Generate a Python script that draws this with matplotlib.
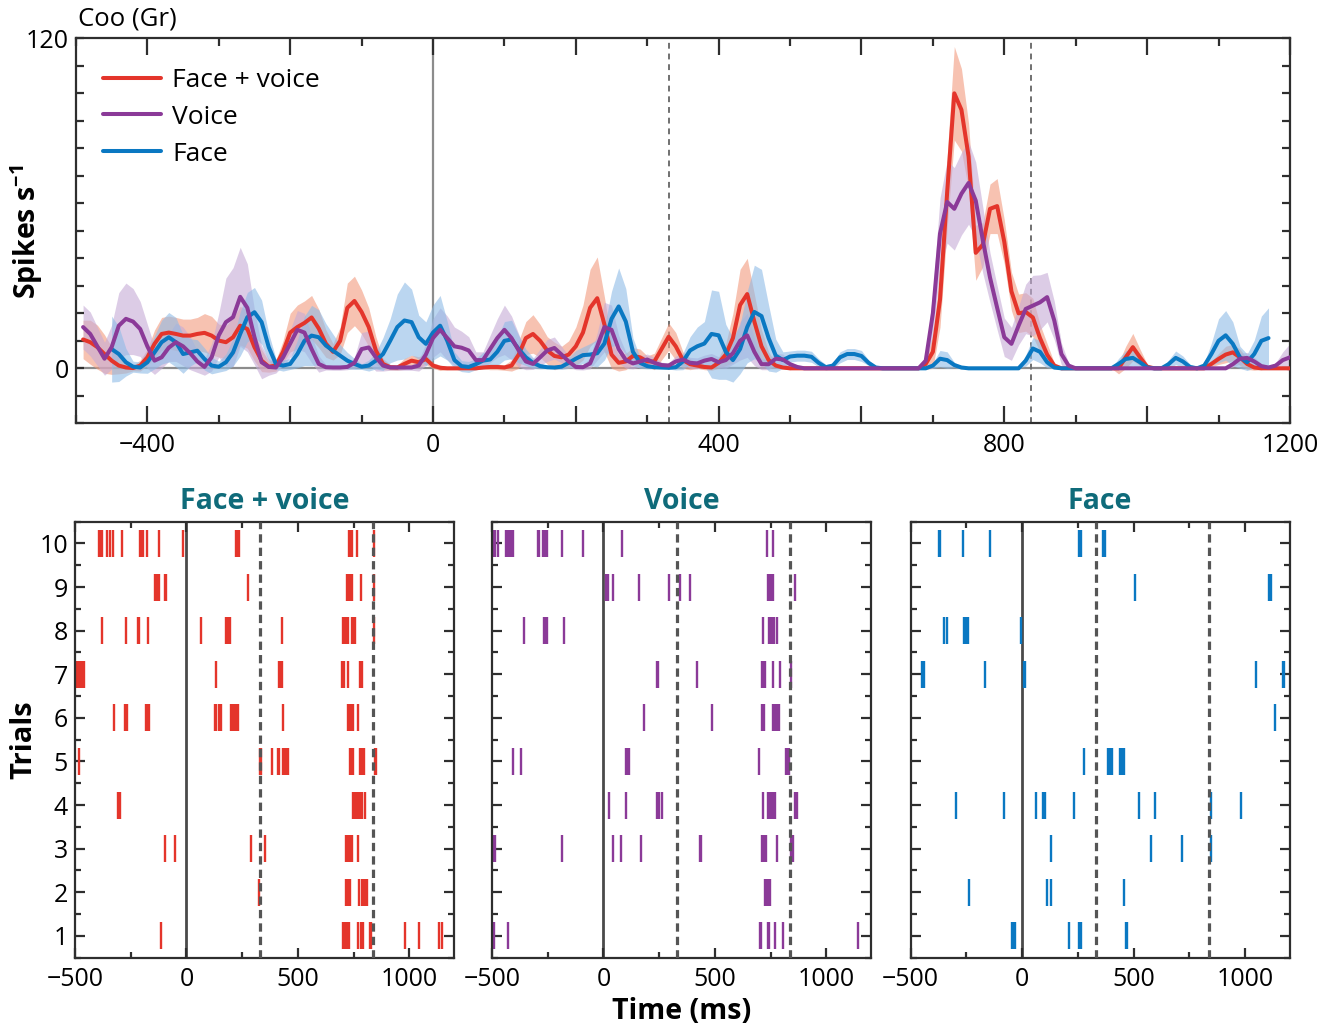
import numpy as np
import matplotlib.pyplot as plt
from matplotlib.ticker import MultipleLocator, FuncFormatter

plt.rcParams['font.family'] = ['Open Sans', 'DejaVu Sans']
plt.rcParams['mathtext.fontset'] = 'custom'
plt.rcParams['mathtext.rm'] = 'Open Sans'
plt.rcParams['mathtext.bf'] = 'Open Sans:bold'

nan = np.nan

# time axis of the rate curves (ms), one value every 10 ms
time_ms = np.arange(-500, 1201, 10)

# mean firing rate (spikes/s)
fv_rate = [
    nan, 10.5, 9.5, 7.7, 5.2, 2.8, 1.0, 0.3, 0.1, 1.0,
    4.0, 8.9, 12.5, 13.0, 12.5, 11.9, 11.9, 12.5, 12.9, 11.9,
    10.1, 9.5, 11.3, 15.5, 14.3, 7.7, 2.8, 0.6, 1.0, 6.0,
    13.0, 15.0, 16.5, 18.5, 14.5, 9.0, 6.0, 10.0, 22.0, 24.5,
    20.5, 15.0, 6.5, 1.6, 0.4, 0.3, 1.6, 2.8, 2.2, 3.4,
    1.0, 0.2, 0, 0, 0, 0, 0, 0.3, 0.5, 0.5,
    0.3, 1.0, 5.0, 11.0, 12.5, 10.0, 6.5, 4.5, 4.0, 5.0,
    8.0, 13.0, 22.0, 25.5, 16.0, 5.0, 2.0, 2.5, 4.5, 4.0,
    2.5, 2.5, 7.0, 11.5, 8.0, 3.0, 1.5, 1.0, 0.5, 0.3,
    2.0, 5.0, 11.0, 23.0, 27.0, 17.0, 8.0, 3.0, 1.0, 0.3,
    0, 0, 0, 0, 0, 0, 0, 0, 0, 0,
    0, 0, 0, 0, 0, 0, 0, 0, 0, 1.6,
    6.0, 25.0, 64.0, 100.0, 94.0, 77.0, 42.0, 45.0, 58.0, 59.0,
    46.0, 28.0, 20.0, 20.5, 18.5, 11.0, 5.0, 1.0, 0, 0,
    0, 0, 0, 0, 0, 0, 0, 4.0, 7.7, 4.0,
    0.6, 0, 0, 0, 0, 0, 0, 0, 0, 1.6,
    3.4, 5.0, 5.8, 4.0, 1.6, 0.3, 0, 0, 0, 0,
    0,
]
v_rate = [
    nan, 15.0, 12.5, 8.0, 3.5, 7.7, 15.5, 18.0, 17.0, 14.3,
    8.0, 2.8, 4.0, 7.5, 9.5, 8.0, 5.5, 2.5, 0.5, 4.0,
    12.0, 16.8, 18.6, 26.0, 22.0, 11.3, 2.2, 0.5, 0.3, 4.0,
    9.0, 14.0, 13.0, 7.0, 1.6, 0.4, 0.3, 0.3, 0.5, 2.0,
    7.0, 7.6, 4.0, 1.0, 0.3, 0.3, 0.3, 0.3, 1.0, 5.0,
    11.0, 14.0, 11.0, 8.0, 7.5, 6.5, 3.0, 3.0, 7.0, 11.0,
    14.0, 11.0, 6.5, 2.5, 1.6, 4.0, 6.5, 7.4, 5.0, 2.5,
    0.5, 0.4, 1.8, 8.0, 15.0, 14.0, 7.0, 3.0, 1.8, 2.5,
    3.2, 2.0, 1.2, 1.0, 2.5, 3.2, 2.0, 1.8, 2.8, 3.4,
    2.2, 3.0, 5.5, 10.0, 12.0, 6.0, 1.5, 1.5, 3.5, 3.2,
    1.5, 0.5, 0, 0, 0, 0, 0, 0, 0, 0,
    0, 0, 0, 0, 0, 0, 0, 0, 0, 2.8,
    20.0, 49.0, 60.5, 58.0, 63.5, 67.4, 61.0, 46.5, 33.0, 22.0,
    11.3, 8.9, 15.5, 21.6, 22.8, 24.0, 25.9, 17.4, 5.2, 1.0,
    0, 0, 0, 0, 0, 0, 0, 0, 0, 0,
    0, 0, 0, 0, 0, 0, 0, 0, 0, 0,
    0, 0, 1.5, 3.5, 3.8, 2.5, 0.8, 0.3, 1.0, 3.0,
    4.0,
]
f_rate = [
    nan, nan, nan, nan, nan, 7.0, 5.2, 2.2, 0.6, 0.3,
    2.2, 5.8, 9.5, 11.3, 9.5, 5.2, 5.8, 6.4, 3.4, 1.0,
    0.6, 2.2, 5.8, 12.5, 18.6, 20.4, 16.8, 7.7, 1.6, 1.0,
    1.6, 5.2, 10.0, 11.9, 11.3, 8.3, 6.4, 4.6, 2.8, 1.6,
    0.6, 1.0, 2.8, 5.2, 10.0, 15.0, 17.4, 16.8, 11.3, 8.9,
    13.0, 15.5, 10.0, 3.0, 0.8, 0.5, 1.5, 2.8, 3.2, 6.0,
    10.0, 10.5, 7.0, 4.0, 2.0, 0.8, 0.4, 0.3, 0.6, 2.0,
    3.5, 4.8, 5.0, 5.5, 9.0, 18.0, 22.5, 17.0, 6.0, 2.0,
    0.8, 0.4, 0.3, 0.2, 0.4, 2.5, 6.5, 8.0, 9.0, 12.5,
    12.0, 6.0, 3.0, 7.0, 15.0, 20.5, 19.0, 11.0, 4.6, 3.0,
    4.3, 4.6, 4.6, 4.2, 2.0, 0.4, 1.0, 4.0, 5.2, 5.2,
    4.5, 2.0, 0.3, 0, 0, 0, 0, 0, 0, 0,
    1.0, 3.5, 3.0, 1.2, 0.3, 0, 0, 0, 0, 0,
    0, 0, 0, 2.8, 7.2, 6.0, 2.2, 0.3, 0, 0,
    0, 0, 0, 0, 0, 0, 1.6, 3.4, 3.8, 2.2,
    0.3, 0, 0, 1.5, 3.8, 2.5, 0.5, 0, 1.0, 5.2,
    10.0, 12.0, 8.9, 4.0, 2.2, 5.2, 10.0, 11.0, nan, nan,
    nan,
]

# half width of the shaded error band (spikes/s)
fv_err = [
    7, 7, 8, 8, 7, 5, 3, 2, 1, 2,
    3, 5, 6, 6, 6, 6, 6, 6, 7, 7,
    6, 6, 7, 7, 7, 5, 4, 2, 2, 4,
    7, 8, 8, 8, 7, 5, 3, 5, 9, 9,
    8, 7, 5, 2, 1, 1, 2, 2, 2, 2,
    1, 1, 0.5, 0.5, 0.5, 0.5, 0.5, 0.5, 1, 1,
    1, 2, 5, 6, 7, 6, 5, 5, 4, 5,
    7, 10, 14, 15, 10, 5, 3, 3, 3, 3,
    2, 3, 4, 5, 5, 3, 2, 1, 1, 1,
    2, 4, 9, 13, 13, 10, 6, 3, 1, 0.5,
    0.5, 0, 0, 0, 0, 0, 0, 0, 0, 0,
    0, 0, 0, 0, 0, 0, 0, 0, 0, 2,
    6, 10, 13, 17, 15, 12, 10, 8, 9, 10,
    8, 7, 7, 7, 7, 5, 4, 1, 0.5, 0,
    0, 0, 0, 0, 0, 0, 2, 4, 5, 3,
    1, 0, 0, 0, 0, 0, 0, 0, 0, 1,
    2, 3, 3, 3, 2, 1, 0.5, 0, 0, 0,
    0,
]
v_err = [
    8, 8, 8, 7, 6, 8, 12, 13, 12, 10,
    8, 5, 4, 5, 7, 7, 6, 4, 3, 5,
    8, 16, 18, 18, 16, 10, 6, 3, 2, 3,
    5, 7, 7, 5, 3, 1, 1, 1, 1, 2,
    6, 6, 5, 2, 1, 1, 1, 1, 2, 4,
    7, 8, 8, 7, 6, 5, 3, 3, 5, 7,
    9, 8, 6, 3, 2, 3, 4, 4, 3, 2,
    1, 1, 2, 5, 9, 9, 5, 3, 2, 2,
    2, 2, 1, 1, 2, 2, 2, 2, 2, 2,
    2, 3, 4, 7, 8, 5, 2, 2, 2, 2,
    1, 0.5, 0, 0, 0, 0, 0, 0, 0, 0,
    0, 0, 0, 0, 0, 0, 0, 0, 0, 2,
    8, 13, 15, 15, 15, 15, 14, 12, 9, 8,
    7, 6, 7, 9, 11, 10, 9, 7, 4, 1,
    0, 0, 0, 0, 0, 0, 0, 0, 0, 0,
    0, 0, 0, 0, 0, 0, 0, 0, 0, 0,
    0, 0.5, 1, 2, 2, 1.5, 1, 0.5, 1, 3,
    5,
]
f_err = [
    0, 0, 0, 0, 0, 12, 10, 5, 2, 2,
    4, 6, 8, 9, 9, 7, 5, 4, 4, 3,
    2, 3, 5, 8, 9, 9, 8, 5, 2, 2,
    2, 5, 9, 11, 10, 8, 6, 4, 3, 2,
    1, 2, 3, 6, 8, 12, 14, 12, 8, 8,
    10, 11, 7, 3, 2, 2, 2, 3, 3, 5,
    7, 7, 5, 3, 2, 1, 0.5, 0.5, 1, 2,
    3, 3, 4, 5, 6, 10, 14, 12, 5, 2,
    1, 0.5, 0.5, 0.5, 1, 3, 5, 7, 8, 16,
    16, 10, 8, 9, 13, 17, 17, 12, 6, 3,
    2, 2, 2, 2, 1.5, 1, 1, 2, 2, 2,
    2, 1, 0.5, 0, 0, 0, 0, 0, 0, 0,
    1, 3, 3, 1, 0.5, 0, 0, 0, 0, 0,
    0, 0, 0, 2, 4, 4, 2, 0.5, 0, 0,
    0, 0, 0, 0, 0, 0, 2, 3, 3, 2,
    0.5, 0, 0, 1.5, 2.5, 2, 1, 0.5, 1, 4,
    8, 9, 8, 4, 3, 5, 9, 11, 0, 0,
    0,
]

# spike times (ms) per trial, trial 1 first
fv_spikes = [
    [-114, 703, 709, 715, 721, 729, 771, 782, 792, 821, 828, 979, 1041, 1133, 1148],
    [324, 715, 721, 727, 733, 774, 786, 793, 801, 809],
    [-95, -50, 291, 352, 715, 723, 729, 736, 744, 768],
    [-307, -300, 749, 756, 764, 771, 780, 789, 800],
    [-483, 328, 332, 383, 410, 417, 434, 441, 449, 455, 732, 739, 745, 780, 788, 794, 845, 852],
    [-326, -276, -267, -181, -175, -169, 126, 132, 148, 154, 199, 206, 214, 221, 229, 431,
     724, 732, 739, 745, 768],
    [-496, -487, -478, -469, -459, 134, 417, 423, 429, 699, 706, 726, 776, 782, 788],
    [-378, -273, -218, -212, -171, 65, 178, 185, 197, 428, 702, 709, 717, 724, 741, 749, 756, 839],
    [-141, -134, -125, -98, -91, 275, 721, 729, 736, 743, 783, 839],
    [-392, -384, -377, -356, -344, -328, -288, -208, -200, -194, -175, -123, -16, 220, 228, 234,
     729, 736, 744, 764, 839],
]
v_spikes = [
    [-493, -430, 700, 708, 736, 744, 768, 804, 1143],
    [723, 729, 735, 741, 747],
    [-493, -485, -187, 43, 79, 169, 431, 438, 712, 720, 727, 779, 840, 848],
    [24, 99, 240, 249, 261, 717, 738, 744, 752, 759, 767, 860, 869],
    [-404, -370, 101, 108, 116, 697, 818, 825, 833],
    [183, 485, 711, 718, 758, 765, 773, 780, 788],
    [240, 246, 419, 711, 717, 723, 762, 791, 839],
    [-355, -269, -261, -254, -178, 714, 741, 749, 756, 764, 777],
    [10, 18, 43, 157, 295, 345, 387, 738, 745, 753, 760, 861],
    [-493, -485, -475, -438, -430, -423, -415, -408, -295, -288, -270, -263, -255, -184, -92, 82,
     735, 759],
]
f_spikes = [
    [-45, -37, -31, 212, 256, 262, 464, 470],
    [-240, 112, 128, 455],
    [128, 578, 715, 846],
    [-295, -82, 61, 95, 101, 231, 526, 598, 848, 982],
    [279, 384, 390, 398, 404, 438, 446, 453, 459],
    [1133],
    [-448, -441, -168, 7, 13, 1048, 1169, 1176],
    [-349, -335, -259, -252, -244, -7],
    [506, 1108, 1116],
    [-375, -369, -267, -145, 256, 264, 365, 370],
]
trials = list(range(1, 11))

labels = ['Face + voice', 'Voice', 'Face']
line_colors = ['#e4352b', '#8b3a98', '#0a78c2']
band_colors = ['#f29a7e', '#c6abd6', '#8fbbe6']
events = [330, 838]

spine_col = '#2e2e2e'
teal = '#0f6b7a'


def minus(v, pos=None):
    return f'{int(round(v))}'.replace('-', '\u2212')


fig = plt.figure(figsize=(13.37, 10.30), dpi=100)

# ---------------- rate panel ----------------
ax = fig.add_axes([0.0568, 0.589, 0.908, 0.3738])
rates = [fv_rate, v_rate, f_rate]
errs = [fv_err, v_err, f_err]
for r, e, bc in zip(rates, errs, band_colors):
    r = np.array(r, dtype=float)
    e = np.array(e, dtype=float)
    ax.fill_between(time_ms, r - e, r + e, color=bc, alpha=0.6, lw=0, zorder=1)

ax.axhline(0, color='#8c8c8c', lw=1.6, zorder=0.5)
ax.axvline(0, color='#8c8c8c', lw=1.6, zorder=0.5)
for ev in events:
    ax.axvline(ev, color='#707070', lw=1.4, dashes=(3, 2.5), zorder=0.5)

handles = []
for r, c, lab, z in zip([fv_rate, f_rate, v_rate], [line_colors[0], line_colors[2], line_colors[1]],
                        [labels[0], labels[2], labels[1]], [3, 3.1, 3.2]):
    h, = ax.plot(time_ms, r, color=c, lw=2.9, label=lab, zorder=z,
                 solid_capstyle='round', solid_joinstyle='round')
    handles.append(h)
ax.legend([handles[0], handles[2], handles[1]], labels, loc='upper left',
          bbox_to_anchor=(0.003, 0.985), frameon=False, fontsize=19,
          handlelength=2.2, handletextpad=0.4, labelspacing=0.45)

ax.set_xlim(-500, 1200)
ax.set_ylim(-20, 120)
ax.xaxis.set_major_locator(MultipleLocator(200))
ax.xaxis.set_minor_locator(MultipleLocator(100))
ax.xaxis.set_major_formatter(FuncFormatter(lambda v, p: minus(v) if v % 400 == 0 else ''))
ax.yaxis.set_major_locator(MultipleLocator(10))
ax.yaxis.set_major_formatter(FuncFormatter(lambda v, p: minus(v) if v in (0, 120) else ''))
ax.tick_params(which='both', direction='in', top=True, right=True, width=1.6,
               color=spine_col, labelsize=18, pad=7)
ax.tick_params(axis='x', which='major', length=12)
ax.tick_params(axis='x', which='minor', length=6)
ax.tick_params(axis='y', length=6, pad=5)
for s in ax.spines.values():
    s.set_linewidth(1.6)
    s.set_color(spine_col)

fig.text(0.0585, 0.982, 'Coo (Gr)', fontsize=18.5, va='center', ha='left')
fig.text(0.0195, 0.775, r'Spikes s$^{\mathbf{-1}}$', fontsize=20.5, fontweight='bold',
         rotation=90, ha='center', va='center')

# ---------------- raster panels ----------------
lefts = [0.0561, 0.3680, 0.6811]
width = 0.2835
spikes_all = [fv_spikes, v_spikes, f_spikes]
for i in range(3):
    rax = fig.add_axes([lefts[i], 0.0702, width, 0.4233])
    rax.eventplot(spikes_all[i], lineoffsets=trials, linelengths=0.62,
                  linewidths=1.7, colors=line_colors[i], zorder=2)
    rax.axvline(0, color='#4a4a4a', lw=2.0, zorder=1)
    for ev in events:
        rax.axvline(ev, color='#555555', lw=2.3, dashes=(2.6, 1.6), zorder=3)
    rax.set_xlim(-500, 1200)
    rax.set_ylim(0.5, 10.5)
    rax.xaxis.set_major_locator(MultipleLocator(500))
    rax.xaxis.set_minor_locator(MultipleLocator(250))
    rax.xaxis.set_major_formatter(FuncFormatter(minus))
    rax.yaxis.set_major_locator(MultipleLocator(1))
    rax.yaxis.set_minor_locator(MultipleLocator(0.5))
    rax.tick_params(which='both', direction='in', top=True, right=True, width=1.6,
                    color=spine_col, labelsize=18)
    rax.tick_params(which='major', length=7)
    rax.tick_params(which='minor', length=4)
    rax.tick_params(axis='x', pad=7)
    rax.tick_params(axis='y', pad=5)
    if i > 0:
        rax.set_yticklabels([])
    else:
        rax.yaxis.set_major_formatter(FuncFormatter(lambda v, p: f'{int(v)}'))
    for s in rax.spines.values():
        s.set_linewidth(1.6)
        s.set_color(spine_col)
    rax.set_title(labels[i], color=teal, fontsize=20.5, fontweight='bold', pad=9)

fig.text(0.5101, 0.0175, 'Time (ms)', fontsize=20.5, fontweight='bold', ha='center', va='center')
fig.text(0.018, 0.282, 'Trials', fontsize=21, fontweight='bold', rotation=90,
         ha='center', va='center')

fig.savefig('out.png', dpi=100)
